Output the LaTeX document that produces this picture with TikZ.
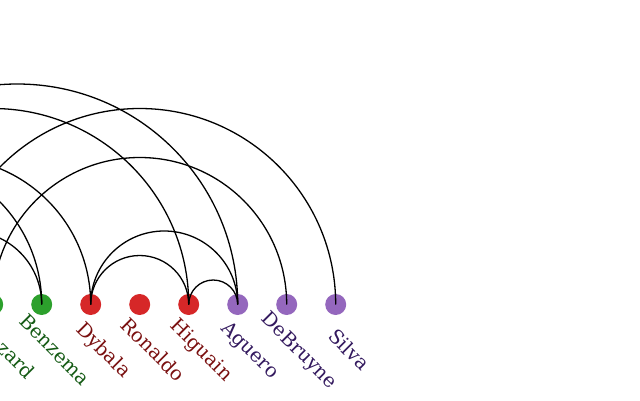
\documentclass[tikz,border=0pt]{standalone}
\usepackage{fontspec}
\setmainfont{DejaVu Serif}
\usetikzlibrary{calc}
\definecolor{gdot}{HTML}{2CA02C}
\definecolor{rdot}{HTML}{D62728}
\definecolor{pdot}{HTML}{9467BD}
\definecolor{gtxt}{HTML}{145A14}
\definecolor{rtxt}{HTML}{7A1010}
\definecolor{ptxt}{HTML}{33195E}
\tikzset{
  dot/.style={circle, fill=#1, draw=none, minimum size=21pt, inner sep=0pt},
  lab/.style={anchor=center, rotate=-45, inner sep=0pt, text=#1,
    font=\fontsize{19.4pt}{23pt}\selectfont, text height=14.5pt, text depth=4.5pt},
  link/.style={draw=black, line width=1.3pt}
}
\newcommand\arcpair[2]{%
  \draw[link] let \p1=(#1.center), \p2=(#2.center), \n1={(\x2-\x1)/2} in
    (\p1) arc[start angle=180, end angle=0, radius=\n1];}
\begin{document}
\begin{tikzpicture}[x=1pt,y=1pt]
\useasboundingbox (0,0) rectangle (640,400);
\clip (0,0) rectangle (640,400);
% players
\node[dot=gdot] (hazard)   at (-7.3,95.5) {};
\node[dot=gdot] (benzema)  at (41.7,95.5) {};
\node[dot=rdot] (dybala)   at (90.7,95.5) {};
\node[dot=rdot] (ronaldo)  at (139.7,95.5) {};
\node[dot=rdot] (higuain)  at (188.7,95.5) {};
\node[dot=pdot] (aguero)   at (237.7,95.5) {};
\node[dot=pdot] (debruyne) at (286.7,95.5) {};
\node[dot=pdot] (silva)    at (335.7,95.5) {};
% partners outside the picture
\coordinate (m1) at (-56.3,95.5);
\coordinate (m2) at (-105.3,95.5);
\coordinate (m4) at (-203.3,95.5);
\coordinate (m5) at (-252.3,95.5);
% labels
\node[lab=gtxt] (lhazard)   at ([shift={(12,-46.5)}]hazard.center)   {Hazard};
\node[lab=gtxt] (lbenzema)  at ([shift={(12,-46.5)}]benzema.center)  {Benzema};
\node[lab=rtxt] (ldybala)   at ([shift={(12,-46.5)}]dybala.center)   {Dybala};
\node[lab=rtxt] (lronaldo)  at ([shift={(12,-46.5)}]ronaldo.center)  {Ronaldo};
\node[lab=rtxt] (lhiguain)  at ([shift={(12,-46.5)}]higuain.center)  {Higuain};
\node[lab=ptxt] (laguero)   at ([shift={(12,-46.5)}]aguero.center)   {Aguero};
\node[lab=ptxt] (ldebruyne) at ([shift={(12,-46.5)}]debruyne.center) {DeBruyne};
\node[lab=ptxt] (lsilva)    at ([shift={(12,-46.5)}]silva.center)    {Silva};
% arcs
\arcpair{m1}{silva}
\arcpair{hazard}{debruyne}
\arcpair{m4}{aguero}
\arcpair{m4}{higuain}
\arcpair{m4}{dybala}
\arcpair{m5}{benzema}
\arcpair{m2}{benzema}
\arcpair{dybala}{higuain}
\arcpair{dybala}{aguero}
\arcpair{higuain}{aguero}
\end{tikzpicture}
\end{document}
